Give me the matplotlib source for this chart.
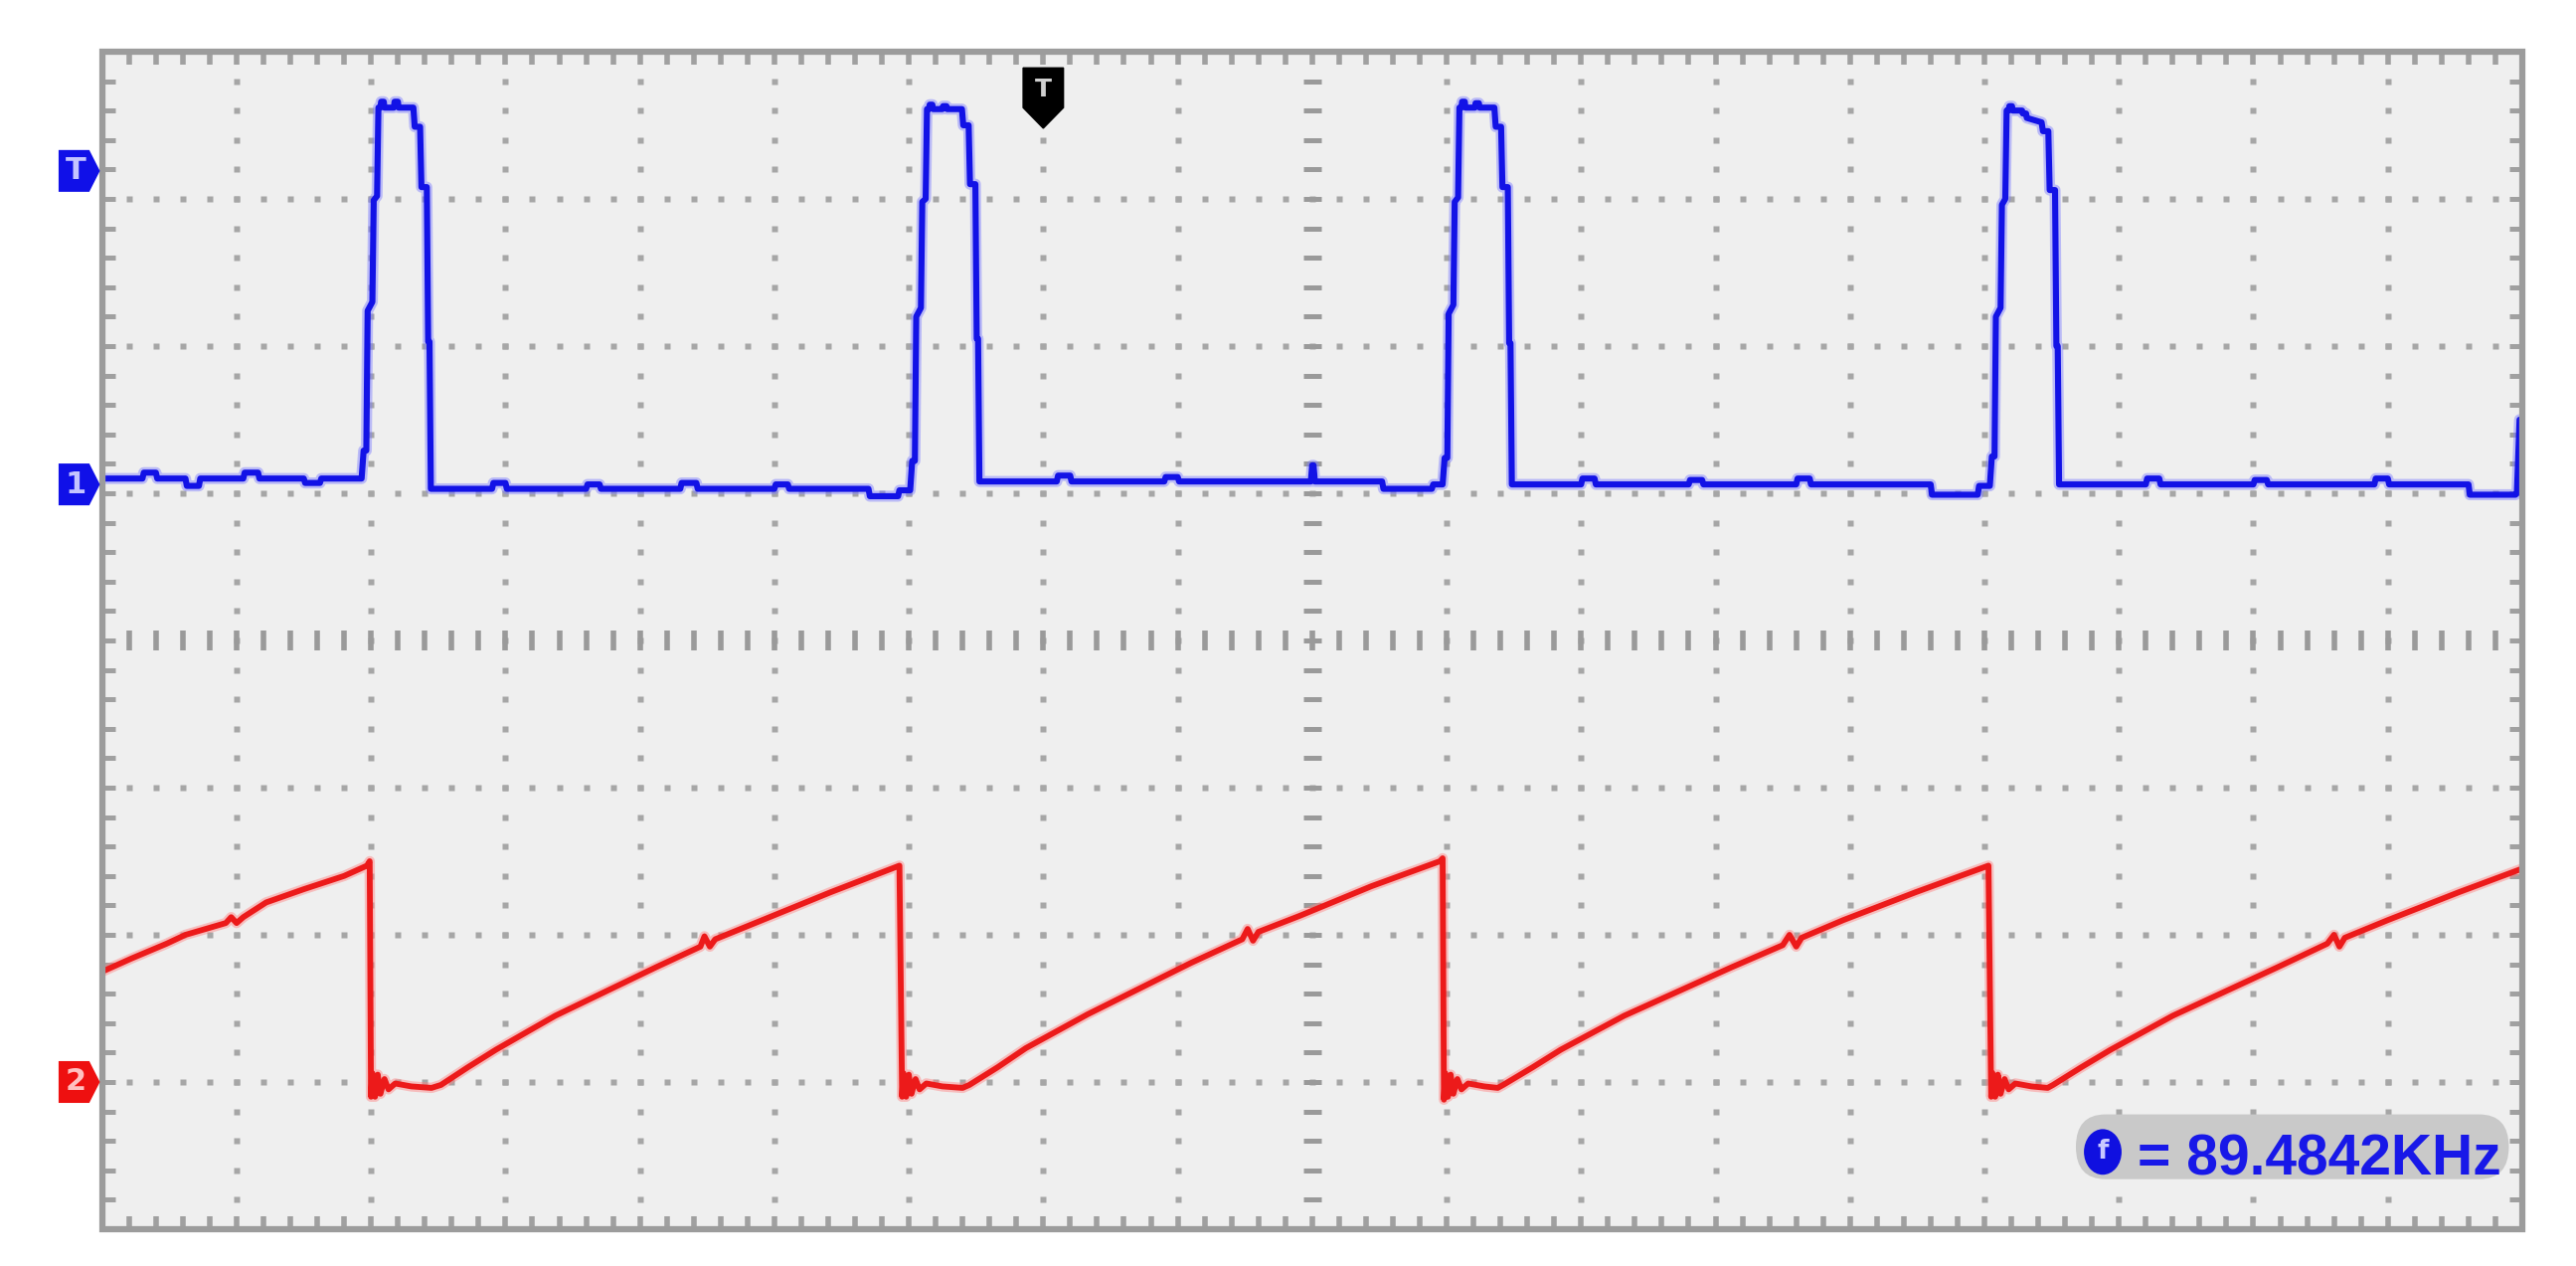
import numpy as np
import matplotlib
matplotlib.use("Agg")
import matplotlib.pyplot as plt
from matplotlib.patches import Polygon, Rectangle, FancyBboxPatch, Ellipse

# screen grid: 18 x 8 divisions, 5 minor steps each, y counted from bottom
N_XDIV = 18
N_YDIV = 8
SUB = 5

# ---- CH1 (blue): baseline stretches between pulses ----
base_segments = [
    ([0.00, 0.30, 0.31, 0.40, 0.41, 0.62, 0.63, 0.72, 0.73, 1.05, 1.06, 1.16, 1.17, 1.50, 1.51, 1.62, 1.63, 1.92],
     [5.10, 5.10, 5.14, 5.14, 5.10, 5.10, 5.05, 5.05, 5.10, 5.10, 5.14, 5.14, 5.10, 5.10, 5.07, 5.07, 5.10, 5.10]),
    ([2.45, 2.90, 2.91, 3.00, 3.01, 3.60, 3.61, 3.70, 3.71, 4.30, 4.31, 4.42, 4.43, 5.00, 5.01, 5.10, 5.11, 5.70, 5.71, 5.92, 5.93, 6.00],
     [5.03, 5.03, 5.07, 5.07, 5.03, 5.03, 5.06, 5.06, 5.03, 5.03, 5.07, 5.07, 5.03, 5.03, 5.06, 5.06, 5.03, 5.03, 4.98, 4.98, 5.02, 5.02]),
    ([6.53, 7.10, 7.11, 7.20, 7.21, 7.90, 7.91, 8.00, 8.01, 8.99, 9.00, 9.01, 9.02, 9.52, 9.53, 9.89, 9.90, 9.96],
     [5.08, 5.08, 5.12, 5.12, 5.08, 5.08, 5.11, 5.11, 5.08, 5.08, 5.19, 5.19, 5.08, 5.08, 5.03, 5.03, 5.06, 5.06]),
    ([10.49, 11.00, 11.01, 11.10, 11.11, 11.80, 11.81, 11.90, 11.91, 12.60, 12.61, 12.70, 12.71, 13.60, 13.61, 13.95, 13.96, 14.03],
     [5.06, 5.06, 5.10, 5.10, 5.06, 5.06, 5.09, 5.09, 5.06, 5.06, 5.10, 5.10, 5.06, 5.06, 4.99, 4.99, 5.05, 5.05]),
    ([14.56, 15.20, 15.21, 15.30, 15.31, 16.00, 16.01, 16.10, 16.11, 16.90, 16.91, 17.00, 17.01, 17.60, 17.61, 17.95, 17.96, 17.98, 18.00],
     [5.06, 5.06, 5.10, 5.10, 5.06, 5.06, 5.09, 5.09, 5.06, 5.06, 5.10, 5.10, 5.06, 5.06, 4.99, 4.99, 5.00, 5.50, 5.50]),
]

# pulse start times and the step shape of each pulse (offsets read from pulse 1)
pulse_starts = [1.93, 6.01, 9.97, 14.04]
PULSE_DX = [0.000, 0.015, 0.035, 0.045, 0.080, 0.090, 0.115, 0.125, 0.140, 0.145, 0.165, 0.170,
            0.240, 0.245, 0.270, 0.275, 0.385, 0.395, 0.435, 0.445, 0.485, 0.495, 0.505, 0.515]
pulse_levels = [
    [5.10, 5.29, 5.29, 6.24, 6.30, 6.99, 7.02, 7.62, 7.62, 7.66, 7.66, 7.62, 7.62, 7.66, 7.66, 7.62, 7.62, 7.49, 7.49, 7.08, 7.08, 6.03, 6.03, 5.03],
    [5.02, 5.22, 5.22, 6.20, 6.26, 6.98, 7.00, 7.61, 7.61, 7.64, 7.64, 7.61, 7.61, 7.63, 7.63, 7.61, 7.61, 7.50, 7.50, 7.10, 7.10, 6.05, 6.05, 5.08],
    [5.06, 5.24, 5.24, 6.22, 6.28, 6.98, 7.01, 7.62, 7.62, 7.66, 7.66, 7.62, 7.62, 7.65, 7.65, 7.62, 7.62, 7.49, 7.49, 7.08, 7.08, 6.02, 6.02, 5.06],
    [5.05, 5.25, 5.25, 6.20, 6.26, 6.96, 7.00, 7.60, 7.60, 7.63, 7.63, 7.60, 7.60, 7.58, 7.58, 7.55, 7.52, 7.46, 7.46, 7.06, 7.06, 6.00, 6.00, 5.06],
]

# ---- CH2 (red): sawtooth ----
red_x = [0.00, 0.22, 0.48, 0.62, 0.92, 0.96, 1.00, 1.05, 1.22, 1.50, 1.80, 1.97, 1.99,
         2.00, 2.01, 2.03, 2.05, 2.07, 2.10, 2.13, 2.18, 2.30, 2.45, 2.52,
         2.72, 2.93, 3.37, 4.12, 4.45, 4.48, 4.52, 4.56, 4.91, 5.42, 5.93,
         5.95, 5.96, 5.98, 6.00, 6.02, 6.05, 6.08, 6.13, 6.25, 6.40, 6.45,
         6.66, 6.87, 7.33, 8.10, 8.48, 8.52, 8.56, 8.60, 8.91, 9.44, 9.95, 9.97,
         9.98, 9.99, 10.01, 10.03, 10.05, 10.08, 10.11, 10.16, 10.28, 10.38, 10.42,
         10.64, 10.85, 11.32, 12.12, 12.50, 12.55, 12.60, 12.64, 12.95, 13.49, 14.03,
         14.05, 14.06, 14.08, 14.10, 14.12, 14.15, 14.18, 14.23, 14.35, 14.47, 14.51,
         14.72, 14.94, 15.40, 16.18, 16.55, 16.60, 16.64, 16.68, 17.00, 17.53, 18.00]
red_y = [1.75, 1.84, 1.94, 2.00, 2.08, 2.12, 2.08, 2.12, 2.22, 2.31, 2.40, 2.47, 2.50,
         0.90, 1.06, 0.90, 1.05, 0.92, 1.02, 0.95, 0.99, 0.97, 0.96, 0.98,
         1.10, 1.22, 1.45, 1.78, 1.92, 1.99, 1.92, 1.97, 2.10, 2.29, 2.47,
         0.90, 1.06, 0.90, 1.05, 0.92, 1.02, 0.95, 0.99, 0.97, 0.96, 0.98,
         1.10, 1.23, 1.46, 1.81, 1.97, 2.04, 1.96, 2.02, 2.13, 2.33, 2.50, 2.52,
         0.88, 1.06, 0.90, 1.05, 0.92, 1.02, 0.95, 0.99, 0.97, 0.96, 0.98,
         1.10, 1.22, 1.45, 1.78, 1.93, 2.00, 1.92, 1.98, 2.10, 2.29, 2.47,
         0.90, 1.06, 0.90, 1.05, 0.92, 1.02, 0.95, 0.99, 0.97, 0.96, 0.98,
         1.10, 1.22, 1.45, 1.78, 1.94, 2.00, 1.92, 1.98, 2.10, 2.29, 2.45]

# marker levels / positions
ch1_level = 5.06
ch2_level = 1.00
trig_level = 7.19
trig_pos = 7.0
freq_text = "= 89.4842KHz"

BLUE = "#1212e6"
RED = "#ec1a1a"
GRID = "#a6a6a6"


def main():
    # assemble the blue trace
    blue_x, blue_y = [], []
    for i, s in enumerate(pulse_starts):
        bx, by = base_segments[i]
        blue_x += bx
        blue_y += by
        blue_x += [s + d for d in PULSE_DX]
        blue_y += pulse_levels[i]
    bx, by = base_segments[-1]
    blue_x += bx
    blue_y += by

    fig = plt.figure(figsize=(25.91, 12.73), dpi=100)
    ax = fig.add_axes([0.03964, 0.02907, 0.9395, 0.9301])
    ax.set_xlim(0, N_XDIV)
    ax.set_ylim(0, N_YDIV)
    ax.set_facecolor("#efefef")
    ax.axis("off")
    ax.add_patch(Rectangle((0, 0), N_XDIV, N_YDIV, facecolor="#efefef",
                           edgecolor="none", zorder=0))

    xm = np.arange(1, N_XDIV * SUB) / SUB
    ym = np.arange(1, N_YDIV * SUB) / SUB

    # dotted major grid
    for c in range(1, N_XDIV):
        if c == N_XDIV // 2:
            continue
        ax.plot([c] * len(ym), ym, "s", ms=4.2, color=GRID, mec="none", zorder=1)
    for r in range(1, N_YDIV):
        if r == N_YDIV // 2:
            continue
        ax.plot(xm, [r] * len(xm), "s", ms=4.2, color=GRID, mec="none", zorder=1)

    # centre axes with tick dashes
    ax.plot([N_XDIV / 2] * len(ym), ym, "_", ms=13, mew=3.6, color="#9a9a9a", zorder=1)
    ax.plot(xm, [N_YDIV / 2] * len(xm), "|", ms=14, mew=4.0, color="#9a9a9a", zorder=1)

    # ruler ticks on the frame
    tx = 13 / 135.2
    ty = 13 / 148.0
    ax.vlines(xm, N_YDIV - ty, N_YDIV, color="#a0a0a0", lw=4, zorder=1)
    ax.vlines(xm, 0, ty, color="#a0a0a0", lw=4, zorder=1)
    ax.hlines(ym, 0, tx, color="#a0a0a0", lw=3.6, zorder=1)
    ax.hlines(ym, N_XDIV - tx, N_XDIV, color="#a0a0a0", lw=3.6, zorder=1)

    ax.add_patch(Rectangle((0, 0), N_XDIV, N_YDIV, facecolor="none",
                           edgecolor="#9c9c9c", lw=4.5, clip_on=False, zorder=6))

    # traces (soft halo + core)
    ax.plot(blue_x, blue_y, color="#7a7aff", lw=8, alpha=0.45, zorder=3)
    ax.plot(blue_x, blue_y, color=BLUE, lw=4.4, zorder=3)
    ax.plot(red_x, red_y, color="#ff8080", lw=7.5, alpha=0.45, zorder=3)
    ax.plot(red_x, red_y, color=RED, lw=4.2, zorder=3)

    # channel markers on the left
    def flag(yc, color, label, tcolor):
        h = 0.135
        pts = [(-0.316, yc - h), (-0.10, yc - h), (-0.025, yc), (-0.10, yc + h), (-0.316, yc + h)]
        ax.add_patch(Polygon(pts, closed=True, facecolor=color, edgecolor=color,
                             lw=1.5, clip_on=False, zorder=7))
        ax.text(-0.195, yc, label, color=tcolor, fontsize=22, fontweight="bold",
                ha="center", va="center", family="DejaVu Sans", clip_on=False, zorder=8)

    flag(trig_level, "#1010e8", "T", "#c4c4ff")
    flag(ch1_level, "#1010e8", "1", "#c4c4ff")
    flag(ch2_level, "#ee1010", "2", "#ffc0c0")

    # trigger position marker at the top
    shield = [(trig_pos - 0.15, 7.89), (trig_pos + 0.15, 7.89), (trig_pos + 0.15, 7.62),
              (trig_pos, 7.48), (trig_pos - 0.15, 7.62)]
    ax.add_patch(Polygon(shield, closed=True, facecolor="black", edgecolor="black",
                         lw=1, zorder=7))
    ax.text(trig_pos, 7.74, "T", color="#d0d0d0", fontsize=18, fontweight="bold",
            ha="center", va="center", zorder=8)

    # frequency readout
    ax.add_patch(FancyBboxPatch((14.68, 0.34), 3.22, 0.44,
                                boxstyle="round,pad=0,rounding_size=0.22",
                                facecolor="#c9c9c9", edgecolor="none", zorder=7))
    ax.add_patch(Ellipse((14.88, 0.525), 0.28, 0.31, facecolor="#1010e0",
                         edgecolor="none", zorder=8))
    ax.text(14.885, 0.525, "f", color="#c8c8ff", fontsize=19, fontweight="bold",
            ha="center", va="center", zorder=9)
    ax.text(15.14, 0.37, freq_text, color="#1818e8", fontsize=41, fontweight="bold",
            family=["Liberation Sans", "DejaVu Sans"], ha="left", va="baseline", zorder=9)

    fig.savefig("out.png", dpi=100, facecolor="white")


if __name__ == "__main__":
    main()
